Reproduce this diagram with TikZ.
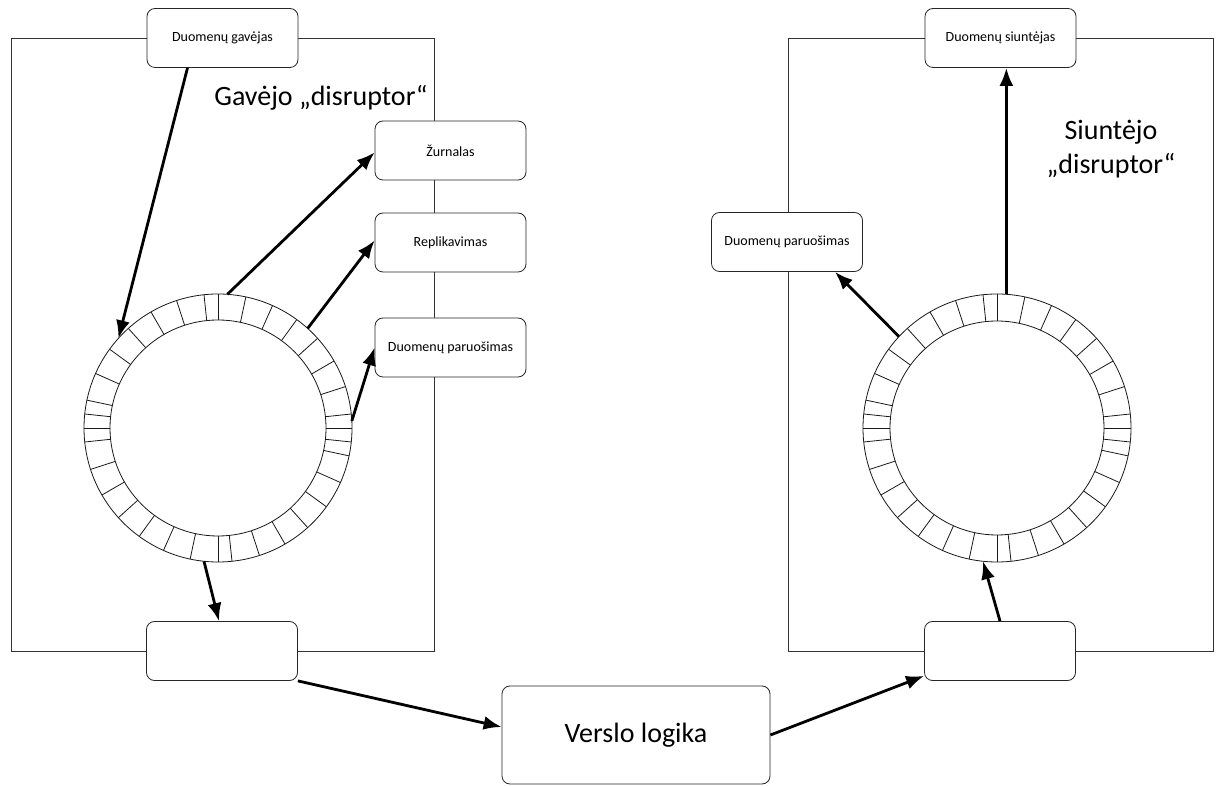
\documentclass[tikz,border=0pt]{standalone}
\usepackage{fontspec}
\setmainfont{Carlito}
\usetikzlibrary{arrows.meta}

\begin{document}
\begin{tikzpicture}[x=1pt, y=1pt,
    frame/.style={draw=black!80, line width=0.8pt},
    ringline/.style={draw=black!90, line width=0.8pt},
    box/.style={draw=black!85, fill=white, rounded corners=8pt, line width=0.8pt,
        minimum width=151pt, minimum height=59pt, font=\fontsize{14}{17}\selectfont},
    big/.style={font=\fontsize{28}{34}\selectfont},
    arr/.style={-{Latex[length=18pt,width=14pt]}, line width=2.8pt}]
    \useasboundingbox (0,0) rectangle (1219,785);
    \draw[frame] (11,134) rectangle (434,747);
    \draw[frame] (788,134) rectangle (1213,747);
    \coordinate (lc) at (218,357);
    \coordinate (rc) at (997,357);
    \foreach \c/\r in {lc/108,rc/107} {
        \draw[ringline] (\c) circle (134);
        \draw[ringline] (\c) circle (\r);
        \foreach \q in {0,90,180,270}
            \foreach \a in {0,6,18,30,42,54,66,78}
                \draw[ringline, shift={(\c)}] ({\q+\a}:\r) -- ({\q+\a}:134);
        \foreach \a in {174,354}
            \draw[ringline, shift={(\c)}] (\a:\r) -- (\a:134);
    }
    \node[box] (gav) at (222.5,747) {Duomenų gavėjas};
    \node[box] (zurn) at (450.5,634.5) {Žurnalas};
    \node[box] (repl) at (450.5,542.5) {Replikavimas};
    \node[box] (prepL) at (450.5,437.5) {Duomenų paruošimas};
    \node[box] (lowL) at (222,134) {};
    \node[box, big, minimum width=268pt, minimum height=98pt] (vers) at (636,50) {Verslo logika};
    \node[box] (siunt) at (1000.5,747) {Duomenų siuntėjas};
    \node[box] (prepR) at (787,543) {Duomenų paruošimas};
    \node[box] (lowR) at (1000,134) {};
    \node[big, anchor=base] (gavlbl) at (321,679) {Gavėjo „disruptor“};
    \node[big, align=center] (siulbl) at (1111,636) {Siuntėjo\\„disruptor“};
    \path (lc) ++(138:134) coordinate (lin);
    \path (lc) ++(86:134) coordinate (lout1);
    \path (lc) ++(48:134) coordinate (lout2);
    \path (lc) ++(3:134) coordinate (lout3);
    \path (lc) ++(264:134) coordinate (lout4);
    \path (rc) ++(264:134) coordinate (rin);
    \path (rc) ++(86:134) coordinate (rout1);
    \path (rc) ++(137:134) coordinate (rout2);
    \draw[arr] ([xshift=-35pt]gav.south) -- (lin);
    \draw[arr] (lout1) -- ([yshift=-2pt]zurn.west);
    \draw[arr] (lout2) -- ([yshift=2pt]repl.west);
    \draw[arr] (lout3) -- (prepL.west);
    \draw[arr] (lout4) -- ([xshift=-3pt]lowL.north);
    \draw[arr] (lowL.south east) -- ([yshift=8pt]vers.west);
    \draw[arr] (vers.east) -- ([yshift=5pt]lowR.south west);
    \draw[arr] (lowR.north) -- (rin);
    \draw[arr] (rout1) -- (rout1 |- siunt.south);
    \draw[arr] (rout2) -- ([xshift=48pt]prepR.south);
\end{tikzpicture}
\end{document}
